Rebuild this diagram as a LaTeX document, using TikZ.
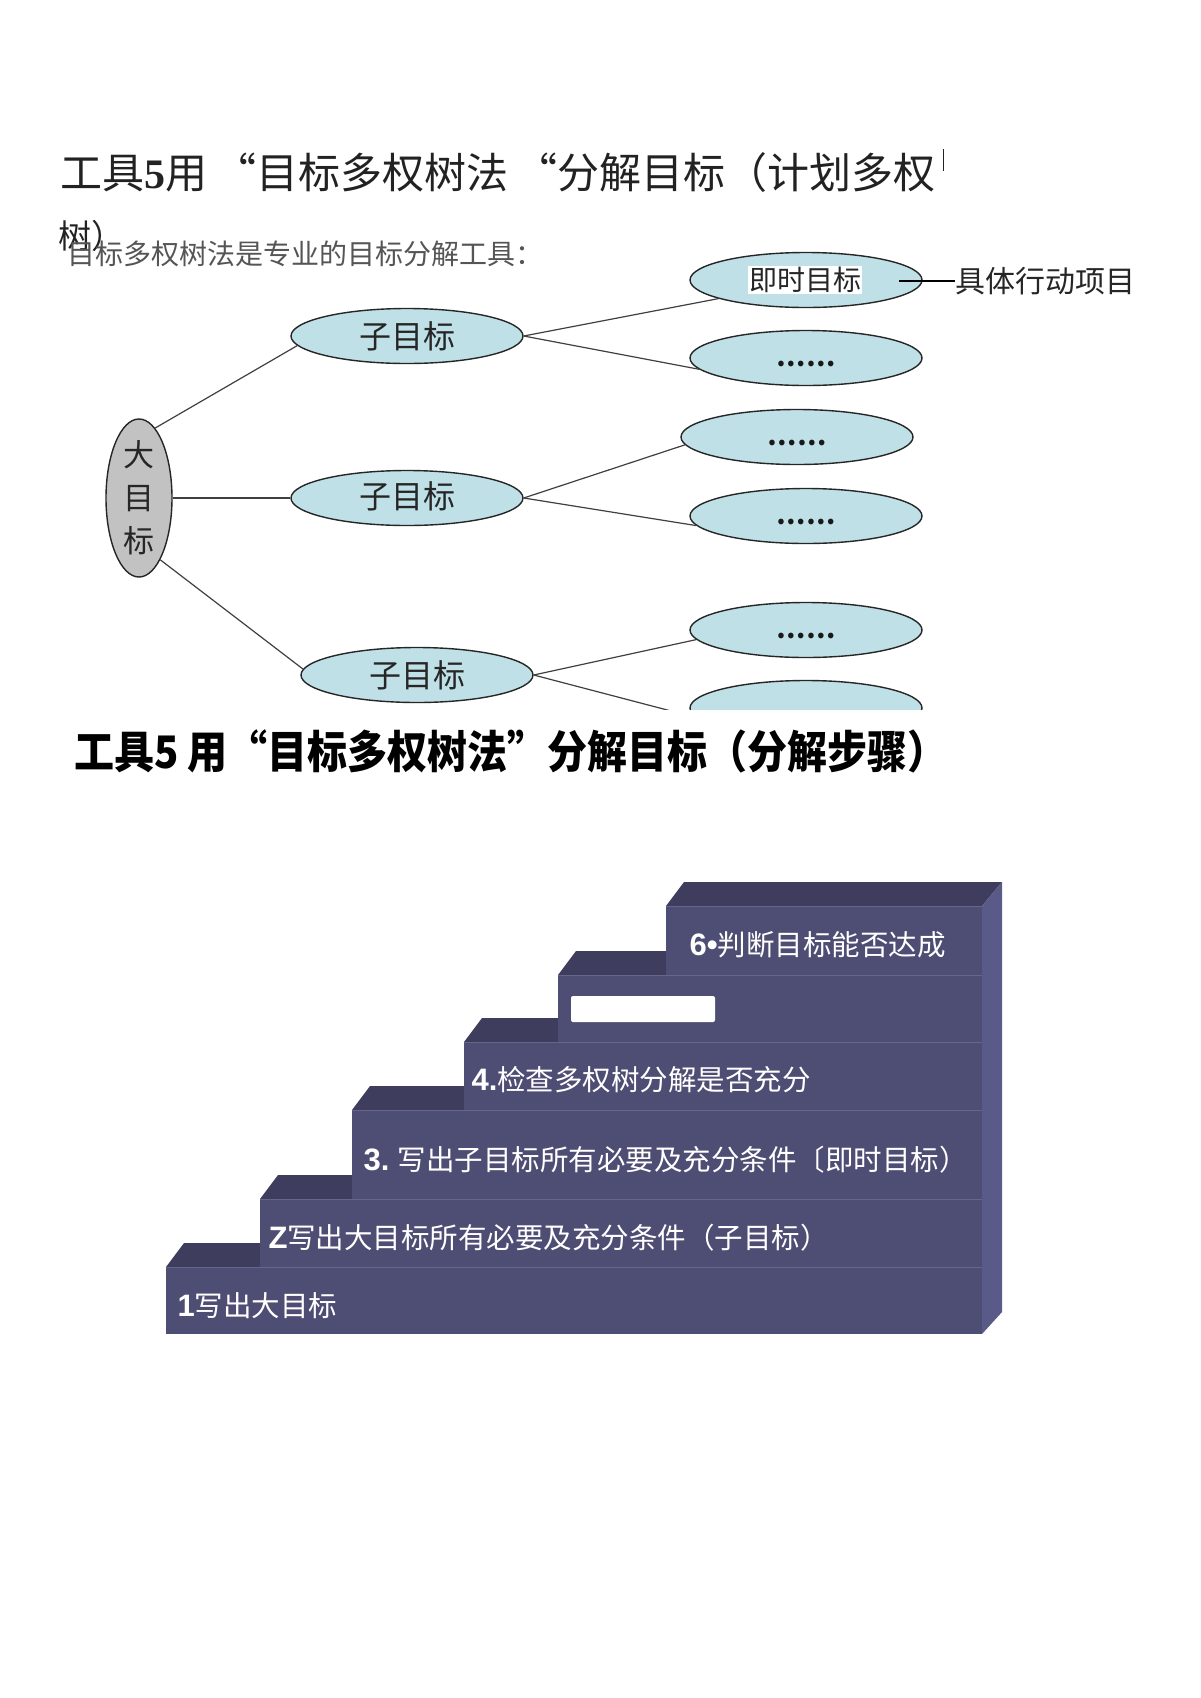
\documentclass[tikz,border=0pt]{standalone}
\usepackage{fontspec}
\setmainfont{Noto Sans CJK SC}
\newfontfamily\latinserif{Liberation Serif}
\newfontfamily\latinsans{Liberation Sans}
\usetikzlibrary{shapes.geometric}
\definecolor{ellfill}{HTML}{BFE0E6}
\definecolor{bigfill}{HTML}{C2C2C2}
\definecolor{stepfront}{HTML}{4E4D73}
\definecolor{steptop}{HTML}{3E3D5D}
\definecolor{stepside}{HTML}{5A5A88}
\definecolor{stepline}{HTML}{66658E}
\definecolor{titlegrey}{HTML}{222222}
\definecolor{subgrey}{HTML}{555555}
\newcommand{\myfs}[1]{\fontsize{#1}{#1}\selectfont}
\newcommand{\stepnum}[1]{{\latinsans\bfseries\myfs{31}#1}}
\begin{document}
\begin{tikzpicture}[x=1pt,y=-1pt,
  ell/.style={ellipse,draw=black!85,line width=1.4pt,fill=ellfill,minimum width=232pt,minimum height=55pt,inner sep=0pt},
  bigell/.style={ellipse,draw=black!85,line width=1.4pt,fill=bigfill,minimum width=66pt,minimum height=158pt,inner sep=0pt},
  conn/.style={draw=black!75,line width=1.2pt},
  elltext/.style={text=black!85,font=\myfs{32}},
  dots/.style={text=black!90,font=\bfseries\myfs{26}},
  steptext/.style={text=white,anchor=west,font=\myfs{28.5}}]
\useasboundingbox (0,0) rectangle (1200,1698);
\fill[white] (0,0) rectangle (1200,1698);

% ---------- title lines ----------
\node[anchor=west,text=titlegrey,font=\myfs{42},inner sep=0pt] (t1) at (60,173)
  {工具{\latinserif\bfseries 5}用\,“目标多权树法\,“分解目标（计划多权};
\draw[titlegrey,line width=1.5pt] (t1.east) ++(8,-24) coordinate (bar1) -- ++(0,22) coordinate (bar2);
\node[anchor=west,text=titlegrey,font=\myfs{33},inner sep=0pt] (t2) at (58,236) {树）};
\node[anchor=west,text=subgrey,font=\myfs{28},inner sep=0pt] (t3) at (67,254) {目标多权树法是专业的目标分解工具：};

% ---------- tree ----------
\node[bigell] (big) at (139,498) {};
\node[align=center,text=black!85,font=\fontsize{31}{43}\selectfont] (bigt) at (139,498) {大\\目\\标};

\node[ell] (s1) at (407,336) {};
\node[elltext] (s1t) at (407,336) {子目标};
\node[ell] (s2) at (407,498) {};
\node[elltext] (s2t) at (407,496) {子目标};
\node[ell] (s3) at (417,675) {};
\node[elltext] (s3t) at (417,675) {子目标};

\node[ell] (e1) at (806,280) {};
\node[ell] (e2) at (806,358) {};
\node[ell] (e3) at (797,437) {};
\node[ell] (e4) at (806,516) {};
\node[ell] (e5) at (806,630) {};

\node[fill=white,inner sep=1pt,text=black!85,font=\myfs{28}] (e1t) at (805,280) {即时目标};
\node[dots] (e2t) at (806,364) {……};
\node[dots] (e3t) at (797,443) {……};
\node[dots] (e4t) at (806,522) {……};
\node[dots] (e5t) at (806,636) {……};

\draw[conn] (big.77) -- (s1.185);
\draw[conn] (big.east) -- (s2.west);
\draw[conn] (big.-71) -- (s3.177);
\draw[conn] (s1.east) -- (e1.192);
\draw[conn] (s1.east) -- (e2.186);
\draw[conn] (s2.east) -- (e3.184);
\draw[conn] (s2.east) -- (e4.185);
\draw[conn] (s3.east) -- (e5.185);
\begin{scope}
  \clip (0,0) rectangle (1200,709);
  \node[ell] (e6) at (806,708) {};
  \draw[conn] (s3.east) -- (e6.185);
\end{scope}

\coordinate (tick) at (899,281);
\node[anchor=west,text=black!85,font=\myfs{30},inner sep=0pt] (act) at (955,281) {具体行动项目};
\draw[black,line width=1.8pt] (tick) -- (act.west);

% ---------- second title ----------
\node[anchor=west,text=black,font=\bfseries\myfs{40},inner sep=0pt,yscale=1.12] (t4) at (74,751)
  {工具5 用“目标多权树法”分解目标（分解步骤）};

% ---------- staircase ----------
\foreach \xl/\yt/\yb in {166/1267/1334, 260/1199/1267, 352/1110/1199, 464/1042/1110, 558/975/1042, 666/906/975}{
  \fill[steptop] (\xl,\yt) -- (\xl+18,\yt-24) -- (1002,\yt-24) -- (982,\yt) -- cycle;
  \fill[stepfront] (\xl,\yt) rectangle (982,\yb);
  \draw[stepline,line width=1pt] (\xl,\yt) -- (982,\yt);
}
\fill[stepside] (982,906) -- (1002,882) -- (1002,1312) -- (982,1334) -- cycle;
\fill[white,rounded corners=2pt] (571,996) rectangle (715,1022);

\node[steptext] (st6) at (686,945) {\stepnum{6•}判断目标能否达成};
\node[steptext] (st4) at (468,1080) {\stepnum{4.}检查多权树分解是否充分};
\node[steptext] (st3) at (360,1160) {\stepnum{3.} 写出子目标所有必要及充分条件〔即时目标）};
\node[steptext] (st2) at (265,1238) {\stepnum{Z}写出大目标所有必要及充分条件（子目标）};
\node[steptext] (st1) at (174,1306) {\stepnum{1}写出大目标};
\end{tikzpicture}
\end{document}
